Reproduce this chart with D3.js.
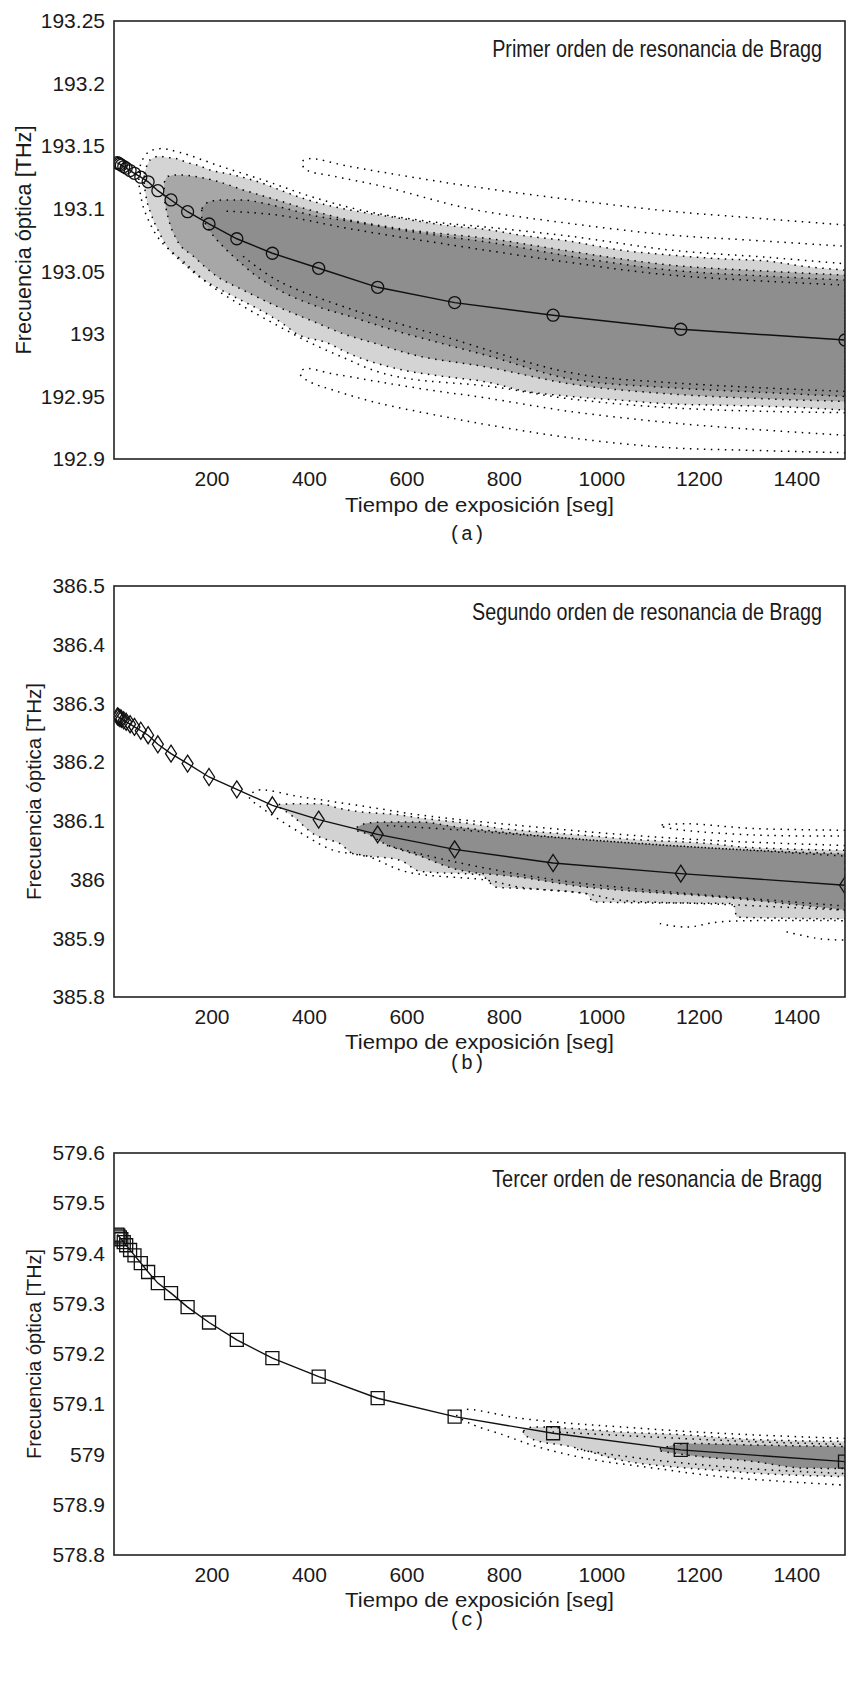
<!DOCTYPE html>
<html>
<head>
<meta charset="utf-8">
<script src="https://cdn.jsdelivr.net/npm/d3@7"></script>
<style>
  html, body { margin: 0; padding: 0; background: #fff; }
  svg { display: block; }
  text { font-family: "Liberation Sans", Arial, sans-serif; fill: #1a1a1a; }
</style>
</head>
<body>
<svg id="fig" width="849" height="1684"></svg>
<script>
// Tiempos de exposición [s], comunes a los tres órdenes
const tiempos = [7, 9, 12, 15, 20, 25, 33, 42, 55, 70, 90, 117, 151, 195, 252, 325, 420, 541, 699, 901, 1163, 1500];

// Frecuencia de resonancia [THz] para cada orden
const frecPrimer = [193.1368, 193.1362, 193.1356, 193.1348, 193.1337, 193.1324, 193.1305, 193.1283, 193.1252, 193.1215, 193.1144,
                    193.1070, 193.0976, 193.0878, 193.0760, 193.0644, 193.0524, 193.0372, 193.0250, 193.0149, 193.0037, 192.9951];
const frecSegundo = [386.2779, 386.2769, 386.2753, 386.2738, 386.2713, 386.2687, 386.2646, 386.2600, 386.2535, 386.2459, 386.2304,
                     386.2145, 386.1975, 386.1747, 386.1537, 386.1265, 386.1021, 386.0770, 386.0515, 386.0282, 386.0101, 385.9902];
const frecTercer = [579.4377, 579.4354, 579.4320, 579.4284, 579.4226, 579.4164, 579.4070, 579.3963, 579.3810, 579.3632, 579.3411,
                    579.3212, 579.2933, 579.2627, 579.2282, 579.1917, 579.1551, 579.1120, 579.0754, 579.0423, 579.0091, 578.9858];

// Ejes
const ticksX = [200, 400, 600, 800, 1000, 1200, 1400];
const ticksPrimer = [192.9, 192.95, 193, 193.05, 193.1, 193.15, 193.2, 193.25];
const etiqPrimer = ["192.9", "192.95", "193", "193.05", "193.1", "193.15", "193.2", "193.25"];
const ticksSegundo = [385.8, 385.9, 386, 386.1, 386.2, 386.3, 386.4, 386.5];
const etiqSegundo = ["385.8", "385.9", "386", "386.1", "386.2", "386.3", "386.4", "386.5"];
const ticksTercer = [578.8, 578.9, 579, 579.1, 579.2, 579.3, 579.4, 579.5, 579.6];
const etiqTercer = ["578.8", "578.9", "579", "579.1", "579.2", "579.3", "579.4", "579.5", "579.6"];

// Regiones de dispersión: [tiempo, frecuencia inferior, frecuencia superior]
const zonaClaraA = [[62, 193.119, 193.128], [67, 193.107, 193.134], [74, 193.098, 193.139], [94, 193.080, 193.142],
  [108, 193.070, 193.141], [129, 193.061, 193.140], [149, 193.054, 193.137], [170, 193.047, 193.135], [197, 193.040, 193.131],
  [245, 193.030, 193.127], [300, 193.019, 193.121], [347, 193.008, 193.114], [375, 193.000, 193.110], [436, 192.993, 193.103],
  [484, 192.984, 193.099], [594, 192.971, 193.092], [676, 192.966, 193.087], [772, 192.961, 193.083], [833, 192.955, 193.079],
  [936, 192.950, 193.074], [1038, 192.947, 193.067], [1141, 192.944, 193.063], [1244, 192.943, 193.060], [1346, 192.942, 193.058],
  [1415, 192.941, 193.054], [1500, 192.939, 193.051]];
const zonaMediaA = [[103, 193.108, 193.121], [111, 193.093, 193.126], [129, 193.075, 193.127], [163, 193.062, 193.126],
  [211, 193.046, 193.122], [265, 193.035, 193.115], [334, 193.022, 193.107], [402, 193.011, 193.099], [471, 193.000, 193.092],
  [539, 192.992, 193.087], [607, 192.984, 193.083], [772, 192.973, 193.076], [936, 192.960, 193.066], [1141, 192.952, 193.055],
  [1346, 192.948, 193.050], [1500, 192.946, 193.047]];
const zonaOscuraA = [[180, 193.093, 193.100], [197, 193.082, 193.106], [231, 193.067, 193.107], [265, 193.055, 193.107],
  [286, 193.048, 193.106], [334, 193.036, 193.102], [416, 193.022, 193.094], [484, 193.014, 193.090], [573, 193.003, 193.084],
  [676, 192.992, 193.078], [772, 192.982, 193.073], [936, 192.964, 193.062], [1141, 192.957, 193.051], [1346, 192.953, 193.046],
  [1500, 192.950, 193.043]];

const zonaClaraB = [[338, 386.124, 386.128], [368, 386.107, 386.129], [409, 386.078, 386.129], [423, 386.072, 386.129],
  [464, 386.061, 386.121], [491, 386.044, 386.117], [587, 386.033, 386.110], [628, 386.014, 386.105], [751, 386.008, 386.093],
  [785, 385.987, 386.088], [833, 385.985, 386.084], [970, 385.976, 386.075], [983, 385.962, 386.074], [1038, 385.961, 386.070],
  [1271, 385.959, 386.057], [1278, 385.936, 386.056], [1500, 385.933, 386.050]];
const zonaOscuraB = [[498, 386.083, 386.089], [519, 386.078, 386.096], [553, 386.062, 386.098], [628, 386.040, 386.098],
  [700, 386.018, 386.090], [833, 386.004, 386.078], [970, 385.987, 386.068], [1038, 385.982, 386.064], [1244, 385.970, 386.053],
  [1400, 385.957, 386.047], [1500, 385.948, 386.044]];

const zonaClaraC = [[840, 579.040, 579.047], [860, 579.030, 579.055], [936, 579.016, 579.052], [1038, 578.989, 579.045],
  [1175, 578.973, 579.039], [1244, 578.968, 579.034], [1312, 578.963, 579.030], [1500, 578.956, 579.026]];
const zonaOscuraC = [[1120, 579.007, 579.011], [1175, 578.999, 579.022], [1312, 578.986, 579.019], [1415, 578.973, 579.017],
  [1500, 578.972, 579.016]];

// Curvas de nivel punteadas: [tiempo, frecuencia]
const nivelExtA = [[1500, 192.937], [1346, 192.938], [1141, 192.941], [936, 192.948], [772, 192.958], [607, 192.964],
  [539, 192.970], [471, 192.981], [402, 192.993], [334, 193.007], [265, 193.022], [197, 193.039], [142, 193.058], [94, 193.075],
  [64, 193.097], [55, 193.110], [51, 193.124], [56, 193.137], [70, 193.145], [94, 193.148], [135, 193.145], [218, 193.134],
  [313, 193.122], [402, 193.110], [505, 193.099], [642, 193.090], [772, 193.085], [936, 193.078], [1141, 193.067],
  [1346, 193.061], [1500, 193.056]];
const nivelSupA = [[1500, 193.087], [1300, 193.093], [1141, 193.098], [900, 193.109], [730, 193.118], [600, 193.126],
  [480, 193.134], [400, 193.140], [385, 193.137], [395, 193.131], [450, 193.126], [550, 193.118], [730, 193.100],
  [900, 193.090], [1141, 193.079], [1300, 193.075], [1500, 193.070]];
const nivelInfA = [[1500, 192.919], [1300, 192.924], [1141, 192.929], [936, 192.938], [760, 192.949], [650, 192.955],
  [539, 192.962], [450, 192.968], [390, 192.972], [382, 192.968], [400, 192.962], [450, 192.955], [539, 192.945],
  [675, 192.934], [772, 192.927], [936, 192.917], [1141, 192.909], [1300, 192.907], [1500, 192.905]];
const nivelIntSupA = [[231, 193.098], [334, 193.095], [484, 193.084], [676, 193.072], [936, 193.057], [1141, 193.047], [1500, 193.039]];
const nivelIntInfA = [[265, 193.062], [334, 193.043], [484, 193.020], [676, 192.998], [936, 192.969], [1141, 192.961], [1500, 192.954]];

const nivelExtB = [[1500, 386.058], [1244, 386.066], [1038, 386.077], [833, 386.092], [628, 386.110], [519, 386.124],
  [382, 386.141], [293, 386.152], [278, 386.140], [300, 386.124], [382, 386.080], [450, 386.050], [519, 386.040],
  [601, 386.013], [765, 385.999], [833, 385.987], [970, 385.976], [1038, 385.965], [1244, 385.958], [1500, 385.948]];
const islaSupB = [[1500, 386.084], [1312, 386.087], [1175, 386.095], [1120, 386.092], [1150, 386.086], [1312, 386.076],
  [1500, 386.074]];
const islaInfB = [[1120, 385.925], [1175, 385.919], [1244, 385.928], [1500, 385.930]];
const islaInfB2 = [[1380, 385.911], [1449, 385.899], [1500, 385.897]];
const nivelIntSupB = [[560, 386.092], [700, 386.085], [900, 386.072], [1100, 386.060], [1300, 386.050], [1500, 386.040]];
const nivelIntInfB = [[560, 386.058], [700, 386.030], [900, 386.000], [1100, 385.982], [1300, 385.968], [1500, 385.955]];

const nivelExtC = [[1500, 579.032], [1312, 579.039], [1175, 579.046], [1038, 579.055], [936, 579.062], [833, 579.072],
  [717, 579.089], [703, 579.079], [730, 579.062], [799, 579.039], [867, 579.016], [970, 578.992], [1107, 578.973],
  [1244, 578.956], [1380, 578.946], [1500, 578.939]];
const nivelIntSupC = [[900, 579.045], [1100, 579.035], [1300, 579.026], [1500, 579.020]];
const nivelIntInfC = [[950, 579.010], [1100, 578.990], [1300, 578.972], [1500, 578.962]];

const paneles = [
  {
    id: "a", top: 21, bottom: 459, dominio: [192.9, 193.25], ticks: ticksPrimer, etiquetas: etiqPrimer,
    frec: frecPrimer, marca: "circulo",
    zonas: [[zonaClaraA, "#d4d4d4"], [zonaMediaA, "#a7a7a7"], [zonaOscuraA, "#8e8e8e"]],
    niveles: [nivelExtA, nivelSupA, nivelInfA, nivelIntSupA, nivelIntInfA],
    titulo: "Primer orden de resonancia de Bragg", tituloY: 57, tituloLen: 330,
    ylabX: 23, ylabLen: 229, ylabSize: 22, xlabY: 512, tag: "(a)", tagY: 540
  },
  {
    id: "b", top: 586, bottom: 997, dominio: [385.8, 386.5], ticks: ticksSegundo, etiquetas: etiqSegundo,
    frec: frecSegundo, marca: "rombo",
    zonas: [[zonaClaraB, "#d2d2d2"], [zonaOscuraB, "#8e8e8e"]],
    niveles: [nivelExtB, islaSupB, islaInfB, islaInfB2, nivelIntSupB, nivelIntInfB],
    titulo: "Segundo orden de resonancia de Bragg", tituloY: 620, tituloLen: 350,
    ylabX: 34, ylabLen: 217, ylabSize: 20, xlabY: 1049, tag: "(b)", tagY: 1069
  },
  {
    id: "c", top: 1153, bottom: 1555, dominio: [578.8, 579.6], ticks: ticksTercer, etiquetas: etiqTercer,
    frec: frecTercer, marca: "cuadro",
    zonas: [[zonaClaraC, "#d2d2d2"], [zonaOscuraC, "#8e8e8e"]],
    niveles: [nivelExtC, nivelIntSupC, nivelIntInfC],
    titulo: "Tercer orden de resonancia de Bragg", tituloY: 1187, tituloLen: 330,
    ylabX: 34, ylabLen: 210, ylabSize: 20, xlabY: 1607, tag: "(c)", tagY: 1626
  }
];

const svg = d3.select("#fig");
const izq = 114, der = 845;
const x = d3.scaleLinear().domain([0, 1500]).range([izq, der]);

const marcas = {
  circulo: d3.symbol().type(d3.symbolCircle).size(Math.PI * 36)(),
  rombo: "M0,-8.5L5.5,0L0,8.5L-5.5,0Z",
  cuadro: "M-6.5,-6.5H6.5V6.5H-6.5Z"
};

// Texto escalado a lo ancho para que ocupe una longitud dada (letra estrecha)
function textoAjustado(padre, contenido, tx, ty, ancla, tam, largo, giro) {
  const t = padre.append("text").attr("text-anchor", ancla).attr("font-size", tam).text(contenido);
  const natural = t.node().getComputedTextLength();
  const s = largo / natural;
  t.attr("transform", `translate(${tx},${ty})${giro ? " rotate(-90)" : ""} scale(${s},1)`);
  return t;
}

paneles.forEach(p => {
  const y = d3.scaleLinear().domain(p.dominio).range([p.bottom, p.top]);
  const g = svg.append("g");

  const clipId = "recorte-" + p.id;
  svg.append("clipPath").attr("id", clipId)
    .append("rect").attr("x", izq).attr("y", p.top).attr("width", der - izq).attr("height", p.bottom - p.top);

  const area = g.append("g").attr("clip-path", `url(#${clipId})`);

  // regiones sombreadas
  const zona = d3.area().x(d => x(d[0])).y0(d => y(d[1])).y1(d => y(d[2])).curve(d3.curveMonotoneX);
  p.zonas.forEach(([datos, color]) => {
    area.append("path").datum(datos).attr("d", zona).attr("fill", color);
  });

  // contornos punteados de las regiones
  p.zonas.forEach(([datos]) => {
    area.append("path").datum(datos).attr("d", zona)
      .attr("fill", "none").attr("stroke", "#000").attr("stroke-width", 1.5)
      .attr("stroke-dasharray", "1.5,5.5");
  });

  // curvas de nivel
  const nivel = d3.line().x(d => x(d[0])).y(d => y(d[1])).curve(d3.curveCatmullRom.alpha(0.5));
  p.niveles.forEach(datos => {
    area.append("path").datum(datos).attr("d", nivel)
      .attr("fill", "none").attr("stroke", "#000").attr("stroke-width", 1.5)
      .attr("stroke-dasharray", "1.5,5.5");
  });

  // curva de frecuencia frente al tiempo
  const serie = tiempos.map((t, i) => [t, p.frec[i]]);
  area.append("path").datum(serie)
    .attr("d", d3.line().x(d => x(d[0])).y(d => y(d[1])))
    .attr("fill", "none").attr("stroke", "#111").attr("stroke-width", 1.4);

  area.selectAll("path.marca").data(serie).join("path")
    .attr("class", "marca")
    .attr("transform", d => `translate(${x(d[0])},${y(d[1])})`)
    .attr("d", marcas[p.marca])
    .attr("fill", "none").attr("stroke", "#111").attr("stroke-width", 1.3);

  // ejes
  const ejeY = g.append("g").attr("transform", `translate(${izq},0)`)
    .call(d3.axisLeft(y).tickValues(p.ticks).tickFormat((d, i) => p.etiquetas[i]).tickSize(0).tickPadding(9));
  const ejeX = g.append("g").attr("transform", `translate(0,${p.bottom})`)
    .call(d3.axisBottom(x).tickValues(ticksX).tickFormat(d3.format("d")).tickSize(0).tickPadding(12));
  [ejeY, ejeX].forEach(e => {
    e.select(".domain").remove();
    e.selectAll("text").attr("font-size", 21).attr("fill", "#1a1a1a")
      .attr("font-family", "'Liberation Sans', Arial, sans-serif");
  });

  // marco
  g.append("rect").attr("x", izq).attr("y", p.top).attr("width", der - izq).attr("height", p.bottom - p.top)
    .attr("fill", "none").attr("stroke", "#222").attr("stroke-width", 1.6);

  // textos
  textoAjustado(g, p.titulo, 822, p.tituloY, "end", 24, p.tituloLen, false);
  textoAjustado(g, "Tiempo de exposición [seg]", (izq + der) / 2, p.xlabY, "middle", 21, 269, false);
  textoAjustado(g, "Frecuencia óptica [THz]", p.ylabX + p.ylabSize * 0.35, (p.top + p.bottom) / 2, "middle",
    p.ylabSize, p.ylabLen, true);

  g.append("text").attr("x", 467).attr("y", p.tagY).attr("text-anchor", "middle")
    .attr("font-size", 20).style("font-family", "'Liberation Mono', 'Courier New', monospace")
    .text(p.tag);
});
</script>
</body>
</html>
